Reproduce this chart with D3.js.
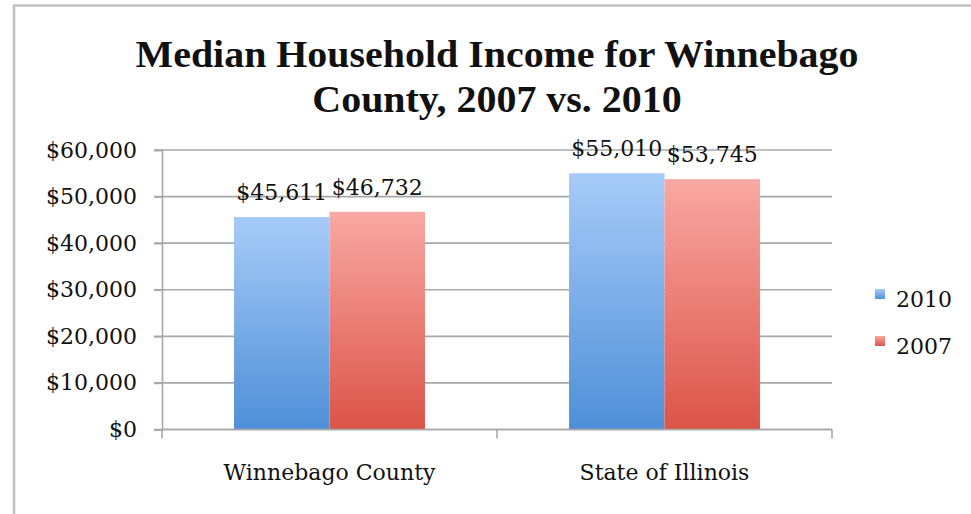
<!DOCTYPE html>
<html>
<head>
<meta charset="utf-8">
<script src="https://cdn.jsdelivr.net/npm/d3@7/dist/d3.min.js"></script>
<style>
html,body{margin:0;padding:0;background:#fff;}
svg{display:block;}
</style>
</head>
<body>
<svg id="chart" width="971" height="514"></svg>
<script>
const titleLines = ["Median Household Income for Winnebago", "County, 2007 vs. 2010"];
const categories = ["Winnebago County", "State of Illinois"];
const seriesNames = ["2010", "2007"];
const values2010 = [45611, 55010];
const values2007 = [46732, 53745];
const yTicks = [0, 10000, 20000, 30000, 40000, 50000, 60000];

const seriesValues = {"2010": values2010, "2007": values2007};
const colors = {
  "2010": {top: "#a7cbf8", bottom: "#4f8fd7"},
  "2007": {top: "#f9a8a3", bottom: "#db5448"}
};

const svg = d3.select("#chart");
const W = 971, H = 514;
const serif = "'DejaVu Serif', serif";
const textColor = "#111";
const gridColor = "#a8a8a8";
const fs = 22;

// frame
svg.append("path")
  .attr("d", `M14,${H+5} L14,5.5 L${W+5},5.5`)
  .attr("fill", "none").attr("stroke", "#c2c2c2").attr("stroke-width", 2.6);

const defs = svg.append("defs");
seriesNames.forEach((s, i) => {
  const g = defs.append("linearGradient").attr("id", "grad" + i)
    .attr("x1", 0).attr("y1", 0).attr("x2", 0).attr("y2", 1);
  g.append("stop").attr("offset", "0%").attr("stop-color", colors[s].top);
  g.append("stop").attr("offset", "100%").attr("stop-color", colors[s].bottom);
});

const plotLeft = 162, plotRight = 832;
const y = d3.scaleLinear().domain([0, 60000]).range([429.5, 150]);
const x0 = d3.scaleBand().domain(categories).range([plotLeft, plotRight])
  .paddingInner(0.43).paddingOuter(0.215);
const x1 = d3.scaleBand().domain(seriesNames).range([0, x0.bandwidth()]).padding(0);

// gridlines
svg.append("g").selectAll("line").data(yTicks).join("line")
  .attr("x1", plotLeft - 8).attr("x2", plotRight)
  .attr("y1", d => y(d)).attr("y2", d => y(d))
  .attr("stroke", gridColor).attr("stroke-width", 1.6);

// y axis
const fmt = d => "$" + d3.format(",")(d);
const yAxis = svg.append("g").attr("transform", `translate(${plotLeft},0)`)
  .call(d3.axisLeft(y).tickValues(yTicks).tickFormat(fmt).tickSize(8).tickPadding(17));
yAxis.select(".domain").attr("stroke", gridColor).attr("stroke-width", 1.6);
yAxis.selectAll(".tick line").attr("stroke", gridColor).attr("stroke-width", 1.6);
yAxis.selectAll(".tick text").attr("font-family", serif).attr("font-size", fs)
  .attr("fill", textColor);

// bars
const groups = svg.append("g").selectAll("g").data(categories).join("g")
  .attr("transform", c => `translate(${x0(c)},0)`);
groups.selectAll("rect").data((c, ci) => seriesNames.map((s, si) => ({s, si, v: seriesValues[s][ci]})))
  .join("rect")
  .attr("x", d => x1(d.s)).attr("width", x1.bandwidth())
  .attr("y", d => y(d.v)).attr("height", d => y(0) - y(d.v))
  .attr("fill", d => `url(#grad${d.si})`);
groups.selectAll("text").data((c, ci) => seriesNames.map((s, si) => ({s, si, v: seriesValues[s][ci]})))
  .join("text")
  .attr("x", d => x1(d.s) + x1.bandwidth() / 2)
  .attr("y", d => y(d.v) - 17)
  .attr("text-anchor", "middle")
  .attr("font-family", serif).attr("font-size", fs).attr("fill", textColor)
  .text(d => fmt(d.v));

// x axis
const xAxis = svg.append("g").attr("transform", `translate(0,${y(0)})`);
xAxis.append("line").attr("x1", plotLeft).attr("x2", plotRight).attr("y1", 0).attr("y2", 0)
  .attr("stroke", gridColor).attr("stroke-width", 1.6);
const boundaries = [plotLeft].concat(categories.map(c => x0(c) + x0.bandwidth() / 2 + x0.step() / 2));
xAxis.selectAll("line.tk").data(boundaries).join("line").attr("class", "tk")
  .attr("x1", d => d).attr("x2", d => d).attr("y1", 0).attr("y2", 9)
  .attr("stroke", gridColor).attr("stroke-width", 1.6);
xAxis.selectAll("text").data(categories).join("text")
  .attr("x", c => x0(c) + x0.bandwidth() / 2)
  .attr("y", 50)
  .attr("text-anchor", "middle")
  .attr("font-family", serif).attr("font-size", fs).attr("fill", textColor)
  .text(c => c);

// title
const titleG = svg.append("g");
const tl = titleG.selectAll("text").data(titleLines).join("text")
  .attr("x", 497).attr("y", (d, i) => 67 + i * 45)
  .attr("text-anchor", "middle")
  .attr("font-family", "'Liberation Serif', serif").attr("font-weight", "bold")
  .attr("font-size", 38).attr("fill", "#111")
  .text(d => d);
const natural = tl.nodes()[0].getComputedTextLength();
const sc = 723 / natural;
tl.each(function() {
  const len = this.getComputedTextLength();
  d3.select(this).attr("textLength", len * sc).attr("lengthAdjust", "spacingAndGlyphs");
});

// legend
const legend = svg.append("g").selectAll("g").data(seriesNames).join("g")
  .attr("transform", (d, i) => `translate(875,${289 + i * 47})`);
legend.append("rect").attr("width", 10).attr("height", 10)
  .attr("fill", (d, i) => `url(#grad${i})`);
legend.append("text").attr("x", 21).attr("y", 18)
  .attr("font-family", serif).attr("font-size", fs).attr("fill", textColor)
  .text(d => d);
</script>
</body>
</html>
